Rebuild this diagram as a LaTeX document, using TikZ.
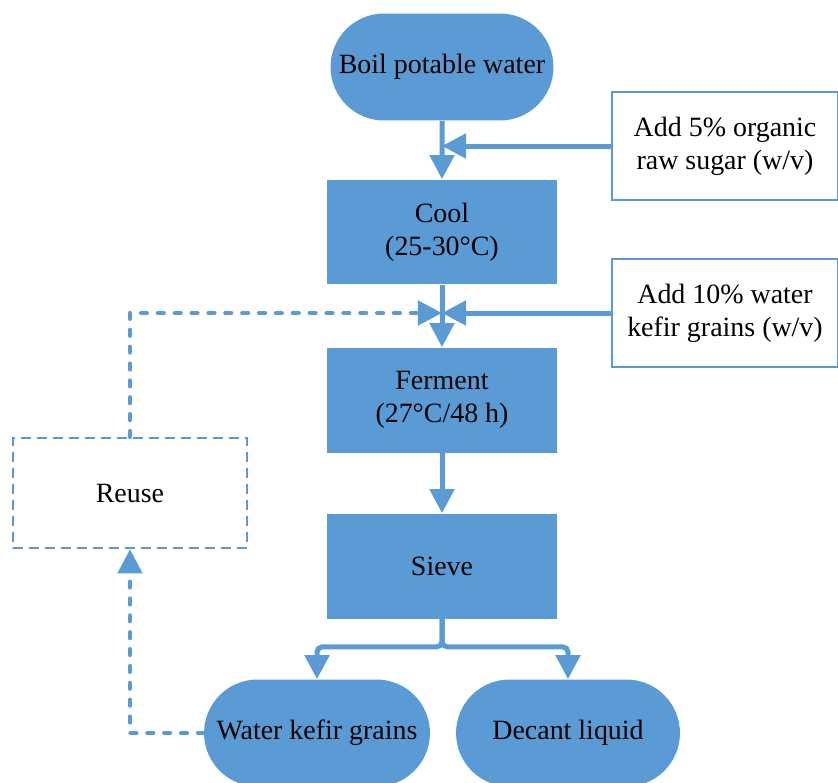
\documentclass[tikz,border=0pt]{standalone}
\usepackage{fontspec}
\setmainfont{Liberation Serif}
\usetikzlibrary{positioning, shapes.misc, arrows.meta}
\definecolor{flowB}{HTML}{5B9BD5}
\tikzset{
  card/.style    ={draw=none, fill=flowB, align=center, inner sep=2pt,
                   font=\fontsize{15.9}{18.8}\selectfont, minimum width=4.6cm},
  Lend/.style    ={card, rounded rectangle, minimum height=2.14cm},
  Lstep/.style   ={card, rectangle, minimum height=2.1cm},
  Ladd/.style    ={card, fill=white, draw=flowB, line width=1.1pt,
                   minimum width=4.52cm, minimum height=2.16cm},
  Lreuse/.style  ={card, fill=white, draw=flowB, line width=1.4pt,
                   dash pattern=on 5.7pt off 3.4pt,
                   minimum width=4.68cm, minimum height=2.2cm},
  feed/.style    ={-{Triangle[length=13.7pt, width=13.7pt]}, flowB,
                   line width=2.85pt},
  recycle/.style ={feed, line width=2.6pt, line cap=round,
                   dash pattern=on 3.2pt off 6.4pt},
}
\begin{document}
\begin{tikzpicture}[x=0.02cm, y=-0.02cm]
\useasboundingbox (0,0) rectangle (838,782);

% main line
\node[Lend]  (boil)    at (442, 67)  {Boil potable water};
\node[Lstep] (cool)    at (442, 232) {Cool\\(25-30°C)};
\node[Lstep] (ferment) at (442, 400) {Ferment\\(27°C/48 h)};
\node[Lstep] (sieve)   at (442, 566) {Sieve};
\node[Lend, minimum width=4.66cm] (grains) at (317, 733) {Water kefir grains};
\node[Lend, minimum width=4.62cm] (decant) at (568, 733) {Decant liquid};

% additions
\node[Ladd]   (sugar) at (725, 146) {Add 5\% organic\\raw sugar (w/v)};
\node[Ladd]   (kefir) at (725, 313) {Add 10\% water\\kefir grains (w/v)};
\node[Lreuse] (reuse) at (130, 493) {Reuse};

\draw[feed] (boil) -- (cool);
\draw[feed] (cool) -- (ferment);
\draw[feed] (ferment) -- (sieve);
\draw[feed] (sugar.west) -- (sugar.west -| boil.south);
\draw[feed] (kefir.west) -- (kefir.west -| cool.south);
\draw[feed, rounded corners=3pt] (sieve.south) -- ++(0,28) -| (grains.north);
\draw[feed, rounded corners=3pt] (sieve.south) -- ++(0,28) -| (decant.north);

% grains loop
\draw[recycle] (grains.west) -| (reuse.south);
\draw[recycle] (reuse.north) |- (kefir.west -| cool.south);

\end{tikzpicture}
\end{document}
